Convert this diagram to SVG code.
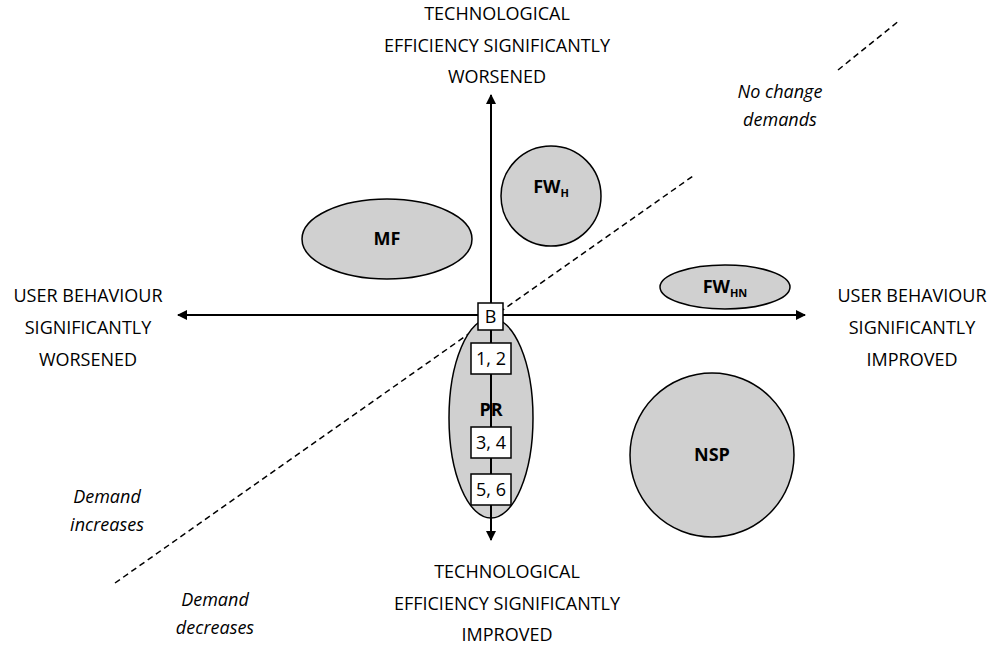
<svg xmlns="http://www.w3.org/2000/svg" width="1000" height="647" viewBox="0 0 1000 647">
<style>
text{font-family:"Open Sans","Liberation Sans",sans-serif;font-size:18px;fill:#000;text-anchor:middle}
.i{font-style:italic}
.b{font-weight:bold}
.n{fill:#d0d0d0;stroke:#000;stroke-width:1.5}
.bx{fill:#fff;stroke:#000;stroke-width:1.5}
.ax{stroke:#000;stroke-width:2;fill:none}
.d{stroke:#000;stroke-width:1.5;stroke-dasharray:6,4;fill:none}
</style>
<defs><marker id="a" markerWidth="10" markerHeight="10" refX="9" refY="5" orient="auto" markerUnits="userSpaceOnUse"><path d="M0,0 L10,5 L0,10 z" fill="#000"/></marker></defs>
<g id="connectors">
<line class="d" x1="115" y1="583" x2="693" y2="176"/>
<line class="d" x1="838" y1="70" x2="900" y2="20"/>
</g>
<g id="MF"><ellipse class="n" cx="387" cy="239" rx="85" ry="40"/><text class="b" x="387" y="245">MF</text></g>
<g id="FWH"><circle class="n" cx="551" cy="196" r="50"/><text class="b" x="551" y="193">FW<tspan font-size="11" dy="4">H</tspan></text></g>
<g id="FWHN"><ellipse class="n" cx="725" cy="287" rx="65" ry="22"/><text class="b" x="725" y="293">FW<tspan font-size="11" dy="4">HN</tspan></text></g>
<g id="NSP"><circle class="n" cx="712" cy="455" r="82"/><text class="b" x="712" y="461">NSP</text></g>
<g id="PR"><ellipse class="n" cx="491" cy="418" rx="42" ry="100"/><text class="b" x="491" y="416">PR</text></g>
<g id="axes">
<line class="ax" x1="491" y1="315" x2="491" y2="95" marker-end="url(#a)"/>
<line class="ax" x1="491" y1="315" x2="491" y2="540" marker-end="url(#a)"/>
<line class="ax" x1="491" y1="315" x2="178" y2="315" marker-end="url(#a)"/>
<line class="ax" x1="491" y1="315" x2="805" y2="315" marker-end="url(#a)"/>
</g>
<g id="B"><rect class="bx" x="478" y="303" width="25" height="27"/><text x="490.5" y="323">B</text></g>
<g id="b12"><rect class="bx" x="471" y="343" width="40" height="31"/><text x="491" y="365">1, 2</text></g>
<g id="b34"><rect class="bx" x="471" y="427" width="40" height="31"/><text x="491" y="449">3, 4</text></g>
<g id="b56"><rect class="bx" x="471" y="474" width="40" height="31"/><text x="491" y="496">5, 6</text></g>
<g id="top"><text x="497" y="20">TECHNOLOGICAL</text><text x="497" y="52">EFFICIENCY SIGNIFICANTLY</text><text x="497" y="83">WORSENED</text></g>
<g id="left"><text x="88" y="302">USER BEHAVIOUR</text><text x="88" y="334">SIGNIFICANTLY</text><text x="88" y="366">WORSENED</text></g>
<g id="right"><text x="912" y="302">USER BEHAVIOUR</text><text x="912" y="334">SIGNIFICANTLY</text><text x="912" y="366">IMPROVED</text></g>
<g id="bottom"><text x="507" y="578">TECHNOLOGICAL</text><text x="507" y="610">EFFICIENCY SIGNIFICANTLY</text><text x="507" y="641">IMPROVED</text></g>
<g id="labels">
<text class="i" x="780" y="98">No change</text><text class="i" x="780" y="126">demands</text>
<text class="i" x="107" y="503">Demand</text><text class="i" x="107" y="531">increases</text>
<text class="i" x="215" y="606">Demand</text><text class="i" x="215" y="634">decreases</text>
</g>
</svg>
